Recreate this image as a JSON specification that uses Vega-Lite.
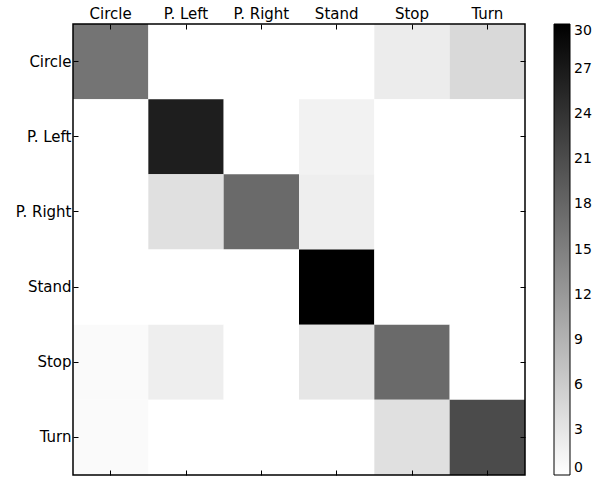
{
  "$schema": "https://vega.github.io/schema/vega-lite/v6.json",
  "autosize": {"type": "none"},
  "padding": {"left": 73, "top": 24, "right": 75, "bottom": 7},
  "width": 452,
  "height": 451,
  "background": "white",
  "config": {
    "view": {"stroke": null},
    "font": "DejaVu Sans",
    "axis": {"labelFont": "DejaVu Sans", "labelFontSize": 15, "labelColor": "black", "tickColor": "black", "tickWidth": 1, "tickSize": 5, "domain": false, "grid": false, "title": null}
  },
  "datasets": {
    "cells": [
      {"actual": "Circle", "predicted": "Circle", "count": 16.4},
      {"actual": "Circle", "predicted": "P. Left", "count": 0},
      {"actual": "Circle", "predicted": "P. Right", "count": 0},
      {"actual": "Circle", "predicted": "Stand", "count": 0},
      {"actual": "Circle", "predicted": "Stop", "count": 2.2},
      {"actual": "Circle", "predicted": "Turn", "count": 4.5},
      {"actual": "P. Left", "predicted": "Circle", "count": 0},
      {"actual": "P. Left", "predicted": "P. Left", "count": 26.5},
      {"actual": "P. Left", "predicted": "P. Right", "count": 0},
      {"actual": "P. Left", "predicted": "Stand", "count": 1.5},
      {"actual": "P. Left", "predicted": "Stop", "count": 0},
      {"actual": "P. Left", "predicted": "Turn", "count": 0},
      {"actual": "P. Right", "predicted": "Circle", "count": 0},
      {"actual": "P. Right", "predicted": "P. Left", "count": 3.7},
      {"actual": "P. Right", "predicted": "P. Right", "count": 17.5},
      {"actual": "P. Right", "predicted": "Stand", "count": 2.0},
      {"actual": "P. Right", "predicted": "Stop", "count": 0},
      {"actual": "P. Right", "predicted": "Turn", "count": 0},
      {"actual": "Stand", "predicted": "Circle", "count": 0},
      {"actual": "Stand", "predicted": "P. Left", "count": 0},
      {"actual": "Stand", "predicted": "P. Right", "count": 0},
      {"actual": "Stand", "predicted": "Stand", "count": 30},
      {"actual": "Stand", "predicted": "Stop", "count": 0},
      {"actual": "Stand", "predicted": "Turn", "count": 0},
      {"actual": "Stop", "predicted": "Circle", "count": 0.6},
      {"actual": "Stop", "predicted": "P. Left", "count": 2.0},
      {"actual": "Stop", "predicted": "P. Right", "count": 0},
      {"actual": "Stop", "predicted": "Stand", "count": 2.9},
      {"actual": "Stop", "predicted": "Stop", "count": 17.5},
      {"actual": "Stop", "predicted": "Turn", "count": 0},
      {"actual": "Turn", "predicted": "Circle", "count": 0.6},
      {"actual": "Turn", "predicted": "P. Left", "count": 0},
      {"actual": "Turn", "predicted": "P. Right", "count": 0},
      {"actual": "Turn", "predicted": "Stand", "count": 0},
      {"actual": "Turn", "predicted": "Stop", "count": 3.7},
      {"actual": "Turn", "predicted": "Turn", "count": 21.2}
    ],
    "frame": [{"kind": "frame"}]
  },
  "layer": [
    {
      "data": {"name": "cells"},
      "mark": {"type": "rect", "stroke": null},
      "encoding": {
        "x": {"field": "predicted", "type": "nominal", "scale": {"paddingInner": 0, "paddingOuter": 0},
              "axis": {"orient": "top", "labelAngle": 0, "offset": -5, "labelPadding": 3, "labelBaseline": "bottom"}},
        "y": {"field": "actual", "type": "nominal", "scale": {"paddingInner": 0, "paddingOuter": 0},
              "axis": {"orient": "left", "offset": -5, "labelPadding": 2}},
        "color": {"field": "count", "type": "quantitative",
                  "scale": {"domain": [0, 30], "range": ["white", "black"], "interpolate": "rgb"},
                  "legend": {"orient": "none", "legendX": 481, "legendY": 0, "direction": "vertical",
                             "title": null, "gradientLength": 451, "gradientThickness": 16,
                             "gradientStrokeColor": "black", "gradientStrokeWidth": 1,
                             "values": [0, 3, 6, 9, 12, 15, 18, 21, 24, 27, 30],
                             "labelFontSize": 14, "labelFont": "DejaVu Sans", "labelColor": "black",
                             "labelOffset": 4, "labelOverlap": false}}
      }
    },
    {
      "data": {"name": "cells"},
      "mark": {"type": "rect", "opacity": 0},
      "encoding": {
        "x": {"field": "predicted", "type": "nominal",
              "axis": {"orient": "bottom", "labels": false, "offset": -5}},
        "y": {"field": "actual", "type": "nominal",
              "axis": {"orient": "right", "labels": false, "offset": -5}}
      }
    },
    {
      "data": {"name": "frame"},
      "mark": {"type": "rect", "fill": null, "filled": false, "stroke": "black", "strokeWidth": 1.5, "clip": false},
      "encoding": {}
    }
  ],
  "resolve": {"axis": {"x": "independent", "y": "independent"}}
}
